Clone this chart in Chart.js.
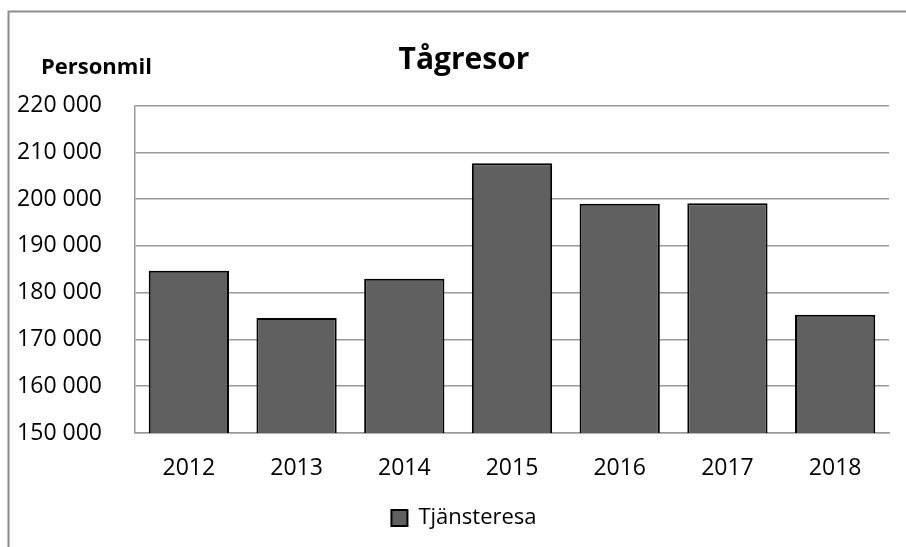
<!DOCTYPE html>
<html>
<head>
<meta charset="utf-8">
<script src="https://cdn.jsdelivr.net/npm/chart.js@4.4.0/dist/chart.umd.min.js"></script>
<style>
  html, body { margin: 0; padding: 0; background: #fff; }
  #wrap { position: absolute; left: 0; top: 0; width: 906px; height: 547px; }
</style>
</head>
<body>
<div id="wrap"><canvas id="tagChart"></canvas></div>
<script>
// Tågresor (personmil per år)
const years = ["2012", "2013", "2014", "2015", "2016", "2017", "2018"];
const tjansteresa = [184700, 174600, 183000, 207700, 199000, 199100, 175300];
const yMin = 150000;
const yMax = 220000;
const yStep = 10000;

const FONT = "'Open Sans', 'DejaVu Sans', sans-serif";

function spaced(v) {
  return v.toString().replace(/\B(?=(\d{3})+(?!\d))/g, " ");
}

// grey frame around the chart + the "Personmil" label above the axis
const framePlugin = {
  id: "frame",
  afterLayout(chart) {
    // let the y labels use the space left of the padding (no clipping)
    chart.scales.y.left = 0;
  },
  beforeDraw(chart) {
    const ctx = chart.ctx;
    ctx.save();
    ctx.strokeStyle = "#8c8c8c";
    ctx.lineWidth = 2;
    ctx.strokeRect(8.5, 11.5, 910, 560);
    ctx.restore();
  },
  afterDraw(chart) {
    const ctx = chart.ctx;
    ctx.save();
    ctx.fillStyle = "#000";
    ctx.font = "bold 22px " + FONT;
    ctx.textAlign = "left";
    ctx.textBaseline = "alphabetic";
    ctx.fillText("Personmil", 41, 74);
    ctx.restore();
  }
};

const tagCtx = document.getElementById("tagChart");
if (tagCtx) {
  new Chart(tagCtx, {
    type: "bar",
    data: {
      labels: years,
      datasets: [{
        label: "Tjänsteresa",
        data: tjansteresa,
        backgroundColor: "#606060",
        borderColor: "#000000",
        borderWidth: 2,
        borderSkipped: false,
        barPercentage: 0.745,
        categoryPercentage: 1
      }]
    },
    options: {
      responsive: true,
      maintainAspectRatio: false,
      animation: false,
      layout: {
        padding: { left: 39, right: 17, top: 0, bottom: 8 }
      },
      plugins: {
        title: {
          display: true,
          text: "Tågresor",
          color: "#000",
          font: { family: FONT, size: 30, weight: "bold" },
          padding: { top: 42, bottom: 27.6 }
        },
        legend: {
          position: "bottom",
          labels: {
            color: "#000",
            font: { family: FONT, size: 22 },
            boxWidth: 16,
            boxHeight: 16,
            padding: 10
          }
        },
        tooltip: { enabled: false }
      },
      scales: {
        x: {
          grid: { display: false, drawTicks: false },
          border: { display: true, color: "#999", width: 1.5 },
          ticks: {
            color: "#000",
            font: { family: FONT, size: 23 },
            padding: 22,
            maxRotation: 0
          },
          afterFit(scale) {
            scale.height = 64;
          }
        },
        y: {
          min: yMin,
          max: yMax,
          grid: { color: "#999", lineWidth: 1.5, drawTicks: false },
          border: { display: true, color: "#999", width: 1.5 },
          ticks: {
            stepSize: yStep,
            color: "#000",
            font: { family: FONT, size: 23 },
            padding: 33,
            callback: v => spaced(v)
          },
          afterFit(scale) {
            scale.width = 96;
          }
        }
      }
    },
    plugins: [framePlugin]
  });
}
</script>
</body>
</html>
